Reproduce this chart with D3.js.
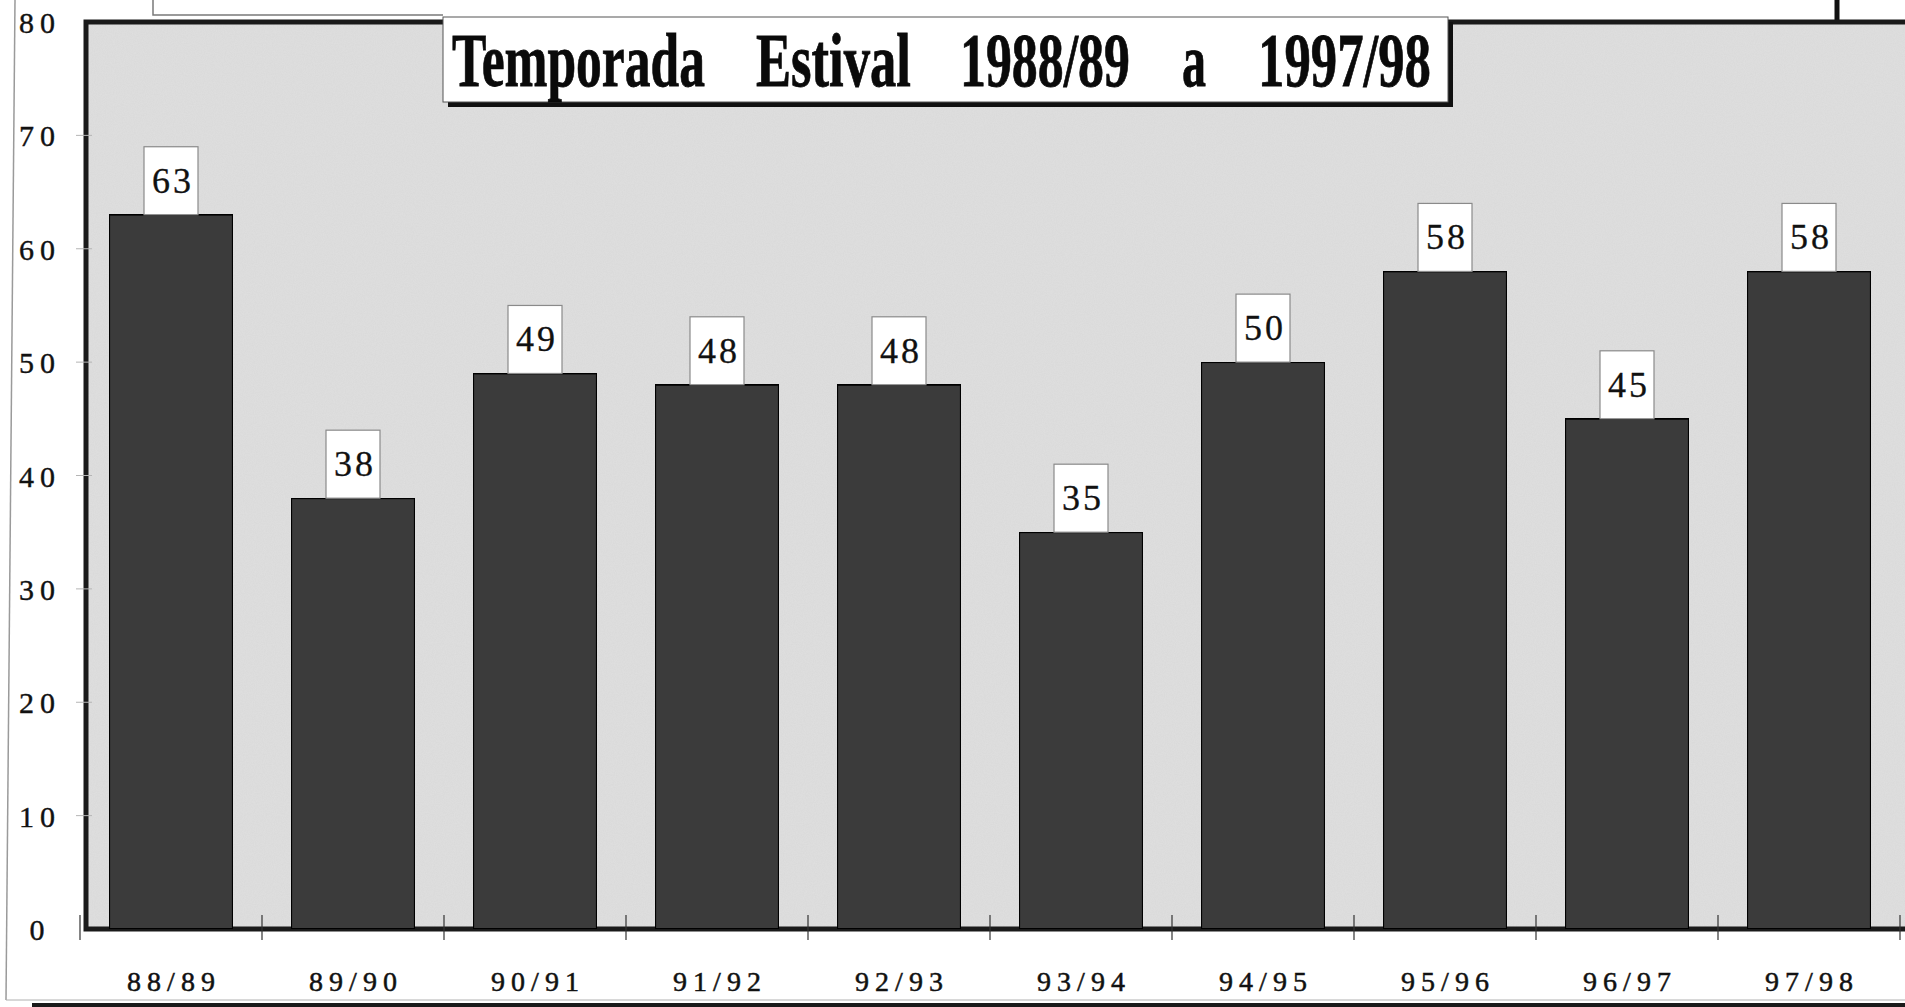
<!DOCTYPE html>
<html>
<head>
<meta charset="utf-8">
<script src="https://cdn.jsdelivr.net/npm/d3@7"></script>
<style>
  html, body { margin: 0; padding: 0; background: #ffffff; }
  svg { display: block; }
</style>
</head>
<body>
<div id="chart"></div>
<script>
// data
var seasons = ['88/89', '89/90', '90/91', '91/92', '92/93', '93/94', '94/95', '95/96', '96/97', '97/98'];
var values = [63, 38, 49, 48, 48, 35, 50, 58, 45, 58];
var yTicks = [0, 10, 20, 30, 40, 50, 60, 70, 80];
var titleWords = ['Temporada', 'Estival', '1988/89', 'a', '1997/98'];

var width = 1905, height = 1007;
var plot = { left: 80, right: 1900, top: 20, bottom: 929 };
var serif = '"Liberation Serif", "DejaVu Serif", serif';

var svg = d3.select('#chart')
    .append('svg')
    .attr('width', width)
    .attr('height', height);

// a little scan grain
var defs = svg.append('defs');
var grain = defs.append('filter').attr('id', 'grain').attr('x', 0).attr('y', 0).attr('width', 1).attr('height', 1);
grain.append('feTurbulence').attr('type', 'fractalNoise').attr('baseFrequency', 0.9).attr('numOctaves', 2).attr('seed', 4).attr('result', 'noise');
grain.append('feColorMatrix').attr('in', 'noise').attr('type', 'matrix')
    .attr('values', '0 0 0 0 0  0 0 0 0 0  0 0 0 0 0  0 0 0 0.07 0').attr('result', 'dots');
grain.append('feComposite').attr('in', 'dots').attr('in2', 'SourceGraphic').attr('operator', 'in').attr('result', 'dots2');
grain.append('feMerge').selectAll('feMergeNode').data(['SourceGraphic', 'dots2']).enter()
    .append('feMergeNode').attr('in', function(d) { return d; });

var x = d3.scaleBand()
    .domain(seasons)
    .range([plot.left, plot.right])
    .paddingInner(0.32)
    .paddingOuter(0.16);

var y = d3.scaleLinear()
    .domain([0, 80])
    .range([plot.bottom, plot.top + 2]);

// paper edges from the scan
svg.append('line').attr('x1', 15).attr('y1', 0).attr('x2', 6).attr('y2', 1000)
    .attr('stroke', '#9a9a9a').attr('stroke-width', 1.5);
svg.append('line').attr('x1', 6).attr('y1', 1000).attr('x2', 1905).attr('y2', 1000)
    .attr('stroke', '#b0b0b0').attr('stroke-width', 1);
svg.append('rect').attr('x', 32).attr('y', 1003).attr('width', 1873).attr('height', 4).attr('fill', '#1a1a1a');
svg.append('polyline').attr('points', '153,0 153,15 443,15')
    .attr('fill', 'none').attr('stroke', '#7a7a7a').attr('stroke-width', 1.5);
svg.append('line').attr('x1', 1837).attr('y1', 0).attr('x2', 1837).attr('y2', 28)
    .attr('stroke', '#111').attr('stroke-width', 5);

// plot frame
svg.append('rect')
    .attr('x', plot.left + 6)
    .attr('y', plot.top)
    .attr('width', width - plot.left)
    .attr('height', plot.bottom - plot.top)
    .attr('fill', '#e0e0e0')
    .attr('filter', 'url(#grain)');
svg.append('path')
    .attr('d', `M${width + 5},${plot.top + 2} L${plot.left + 6},${plot.top + 2} L${plot.left + 6},${plot.bottom} L${width + 5},${plot.bottom}`)
    .attr('fill', 'none')
    .attr('stroke', '#1a1a1a')
    .attr('stroke-width', 5);

// y axis labels
var yAxis = svg.append('g').attr('class', 'y-axis');
yAxis.selectAll('text')
    .data(yTicks)
    .enter()
    .append('text')
    .attr('x', 40)
    .attr('y', function(d) { return y(d) + 11; })
    .attr('text-anchor', 'middle')
    .style('font-family', serif)
    .style('font-size', '30px')
    .style('letter-spacing', '6px')
    .attr('fill', '#111')
    .attr('stroke', '#111')
    .attr('stroke-width', 0.4)
    .text(function(d) { return d; });
yAxis.selectAll('line')
    .data(yTicks.filter(function(d) { return d > 0 && d < 80; }))
    .enter()
    .append('line')
    .attr('x1', 76).attr('x2', 92)
    .attr('y1', function(d) { return y(d); })
    .attr('y2', function(d) { return y(d); })
    .attr('stroke', '#b5b5b5').attr('stroke-width', 1);

// bars
svg.append('g')
    .selectAll('rect')
    .data(values)
    .enter()
    .append('rect')
    .attr('x', function(d, i) { return x(seasons[i]); })
    .attr('y', function(d) { return y(d); })
    .attr('width', x.bandwidth())
    .attr('height', function(d) { return plot.bottom - y(d); })
    .attr('fill', '#3d3d3d')
    .attr('stroke', '#111')
    .attr('stroke-width', 2)
    .attr('filter', 'url(#grain)');

// category boundary ticks
var bounds = d3.range(seasons.length + 1).map(function(i) { return plot.left + i * x.step(); });
svg.append('g')
    .selectAll('line')
    .data(bounds)
    .enter()
    .append('line')
    .attr('x1', function(d) { return d; })
    .attr('x2', function(d) { return d; })
    .attr('y1', plot.bottom - 14)
    .attr('y2', plot.bottom + 11)
    .attr('stroke', '#333')
    .attr('stroke-width', 1.2);

// value boxes above bars
var boxW = 54, boxH = 68;
var labels = svg.append('g')
    .selectAll('g')
    .data(values)
    .enter()
    .append('g')
    .attr('transform', function(d, i) {
        return `translate(${x(seasons[i]) + x.bandwidth() / 2}, ${y(d)})`;
    });
labels.append('rect')
    .attr('x', -boxW / 2)
    .attr('y', -boxH)
    .attr('width', boxW)
    .attr('height', boxH)
    .attr('fill', '#ffffff')
    .attr('stroke', '#8a8a8a')
    .attr('stroke-width', 1.2);
labels.append('text')
    .attr('x', 2)
    .attr('y', -boxH / 2 + 12)
    .attr('text-anchor', 'middle')
    .style('font-family', serif)
    .style('font-size', '36px')
    .style('letter-spacing', '3px')
    .attr('fill', '#111')
    .attr('stroke', '#111')
    .attr('stroke-width', 0.3)
    .text(function(d) { return d; });

// x axis labels
svg.append('g')
    .selectAll('text')
    .data(seasons)
    .enter()
    .append('text')
    .attr('x', function(d) { return x(d) + x.bandwidth() / 2 + 3; })
    .attr('y', 991)
    .attr('text-anchor', 'middle')
    .style('font-family', serif)
    .style('font-size', '28px')
    .style('letter-spacing', '6px')
    .attr('fill', '#111')
    .attr('stroke', '#111')
    .attr('stroke-width', 0.5)
    .text(function(d) { return d; });

// title box with drop shadow
var titleBox = { x: 443, y: 17, w: 1005, h: 85 };
svg.append('rect')
    .attr('x', titleBox.x + 5).attr('y', titleBox.y + 5)
    .attr('width', titleBox.w).attr('height', titleBox.h)
    .attr('fill', '#111');
svg.append('rect')
    .attr('x', titleBox.x).attr('y', titleBox.y)
    .attr('width', titleBox.w).attr('height', titleBox.h)
    .attr('fill', '#ffffff')
    .attr('stroke', '#555').attr('stroke-width', 1);

// word slots measured off the title (left edge, width); each word squeezed to its slot
var wordSlots = [[452, 253], [756, 155], [960, 170], [1182, 24], [1258, 173]];
svg.append('g')
    .selectAll('text')
    .data(titleWords)
    .enter()
    .append('text')
    .attr('x', 0)
    .attr('y', 0)
    .style('font-family', serif)
    .style('font-weight', 700)
    .style('font-size', '76px')
    .attr('fill', '#0a0a0a')
    .attr('stroke', '#0a0a0a')
    .attr('stroke-width', 0.8)
    .text(function(d) { return d; })
    .attr('transform', function(d, i) {
        var natural = this.getComputedTextLength();
        var sx = wordSlots[i][1] / natural;
        return `translate(${wordSlots[i][0]}, 86) scale(${sx}, 1)`;
    });
</script>
</body>
</html>
